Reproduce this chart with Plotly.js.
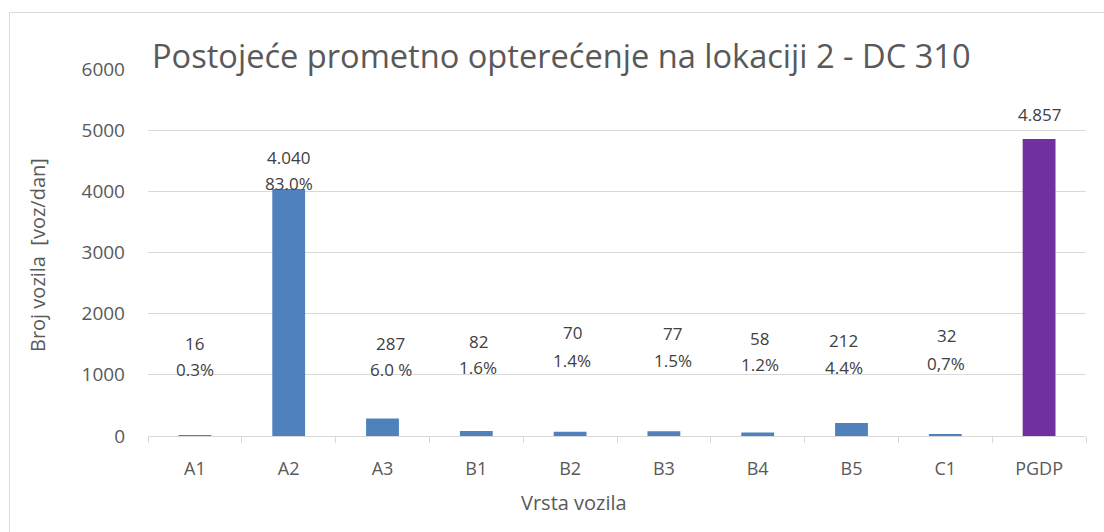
<!DOCTYPE html>
<html>
<head>
<meta charset="utf-8">
<script src="https://cdn.plot.ly/plotly-3.0.1.min.js"></script>
<style>html,body{margin:0;padding:0;background:#fff;}#chart{width:1104px;height:532px;}</style>
</head>
<body>
<div id="chart"></div>
<script>
// ---- data ----
const categories = ["A1","A2","A3","B1","B2","B3","B4","B5","C1","PGDP"];
const values = [16, 4040, 287, 82, 70, 77, 58, 212, 32, 4857];
const valueLabels = ["16","4.040","287","82","70","77","58","212","32","4.857"];
const percentLabels = ["0.3%","83.0%","6.0 %","1.6%","1.4%","1.5%","1.2%","4.4%","0,7%",""];
const titleText = "Postojeće prometno opterećenje na lokaciji 2 - DC 310";
const xTitle = "Vrsta vozila";
const yTitle = "Broj vozila  [voz/dan]";

// ---- label placement (manually moved labels, in axis units) ----
const valueLabelY = [1520, 4561, 1520, 1553, 1700, 1684, 1602, 1569, 1635, 5264];
const pctLabelY = [1095, 4136, 1095, 1128, 1242, 1242, 1161, 1128, 1193, null];
const labelXShift = [0, 0, 8, 2, 2, 9, 2, -8, 1, 0];

const txt = '#595959';
const font = 'Open Sans, sans-serif';
const colors = categories.map(c => c === 'PGDP' ? '#7030A0' : '#4F81BD');

const annotations = [];
categories.forEach((c, i) => {
  annotations.push({x: c, y: valueLabelY[i], xref: 'x', yref: 'y', text: valueLabels[i],
    showarrow: false, xshift: labelXShift[i], yanchor: 'middle', font: {family: font, size: 17, color: '#404040'}});
  if (percentLabels[i]) {
    annotations.push({x: c, y: pctLabelY[i], xref: 'x', yref: 'y', text: percentLabels[i],
      showarrow: false, xshift: labelXShift[i], yanchor: 'middle', font: {family: font, size: 17, color: '#404040'}});
  }
});
// axis titles
annotations.push({text: xTitle, xref: 'paper', yref: 'paper', x: (574-148)/938, y: (436-503)/367,
  showarrow: false, xanchor: 'center', yanchor: 'middle', font: {family: font, size: 20, color: txt}});
annotations.push({text: yTitle, xref: 'paper', yref: 'paper', x: (38-148)/938, y: (436-255)/367,
  showarrow: false, textangle: -90, xanchor: 'center', yanchor: 'middle', font: {family: font, size: 20, color: txt}});

const trace = {
  type: 'bar', x: categories, y: values,
  marker: {color: colors}, width: 0.35, hoverinfo: 'x+y'
};

const layout = {
  width: 1104, height: 532,
  margin: {l: 148, r: 18, t: 69, b: 96},
  paper_bgcolor: '#fff', plot_bgcolor: '#fff',
  showlegend: false,
  title: {text: titleText, x: 152/1104, xanchor: 'left', xref: 'container', y: 1 - 57/532, yref: 'container', yanchor: 'middle',
    font: {family: font, size: 32.6, color: txt}},
  xaxis: {type: 'category', showgrid: false, showline: true, linecolor: '#d9d9d9', linewidth: 1,
    ticks: 'outside', tickson: 'boundaries', ticklen: 6, tickcolor: '#d9d9d9', ticklabelstandoff: 16,
    tickfont: {family: font, size: 18, color: txt}, fixedrange: true},
  yaxis: {range: [0, 6000], dtick: 1000, showgrid: true, gridcolor: '#d9d9d9', gridwidth: 1,
    zeroline: false, showline: false, ticks: '', tickformat: 'd', ticklen: 0, ticklabelstandoff: 22,
    tickfont: {family: font, size: 19, color: txt}, fixedrange: true},
  annotations: annotations,
  shapes: [{type: 'rect', xref: 'paper', yref: 'paper',
    x0: (9.5-148)/938, x1: (1112-148)/938, y0: (436-545)/367, y1: (436-12.5)/367,
    line: {color: '#d9d9d9', width: 1}, fillcolor: 'rgba(0,0,0,0)', layer: 'below'}]
};

Plotly.newPlot('chart', [trace], layout, {displayModeBar: false, staticPlot: true});
</script>
</body>
</html>
